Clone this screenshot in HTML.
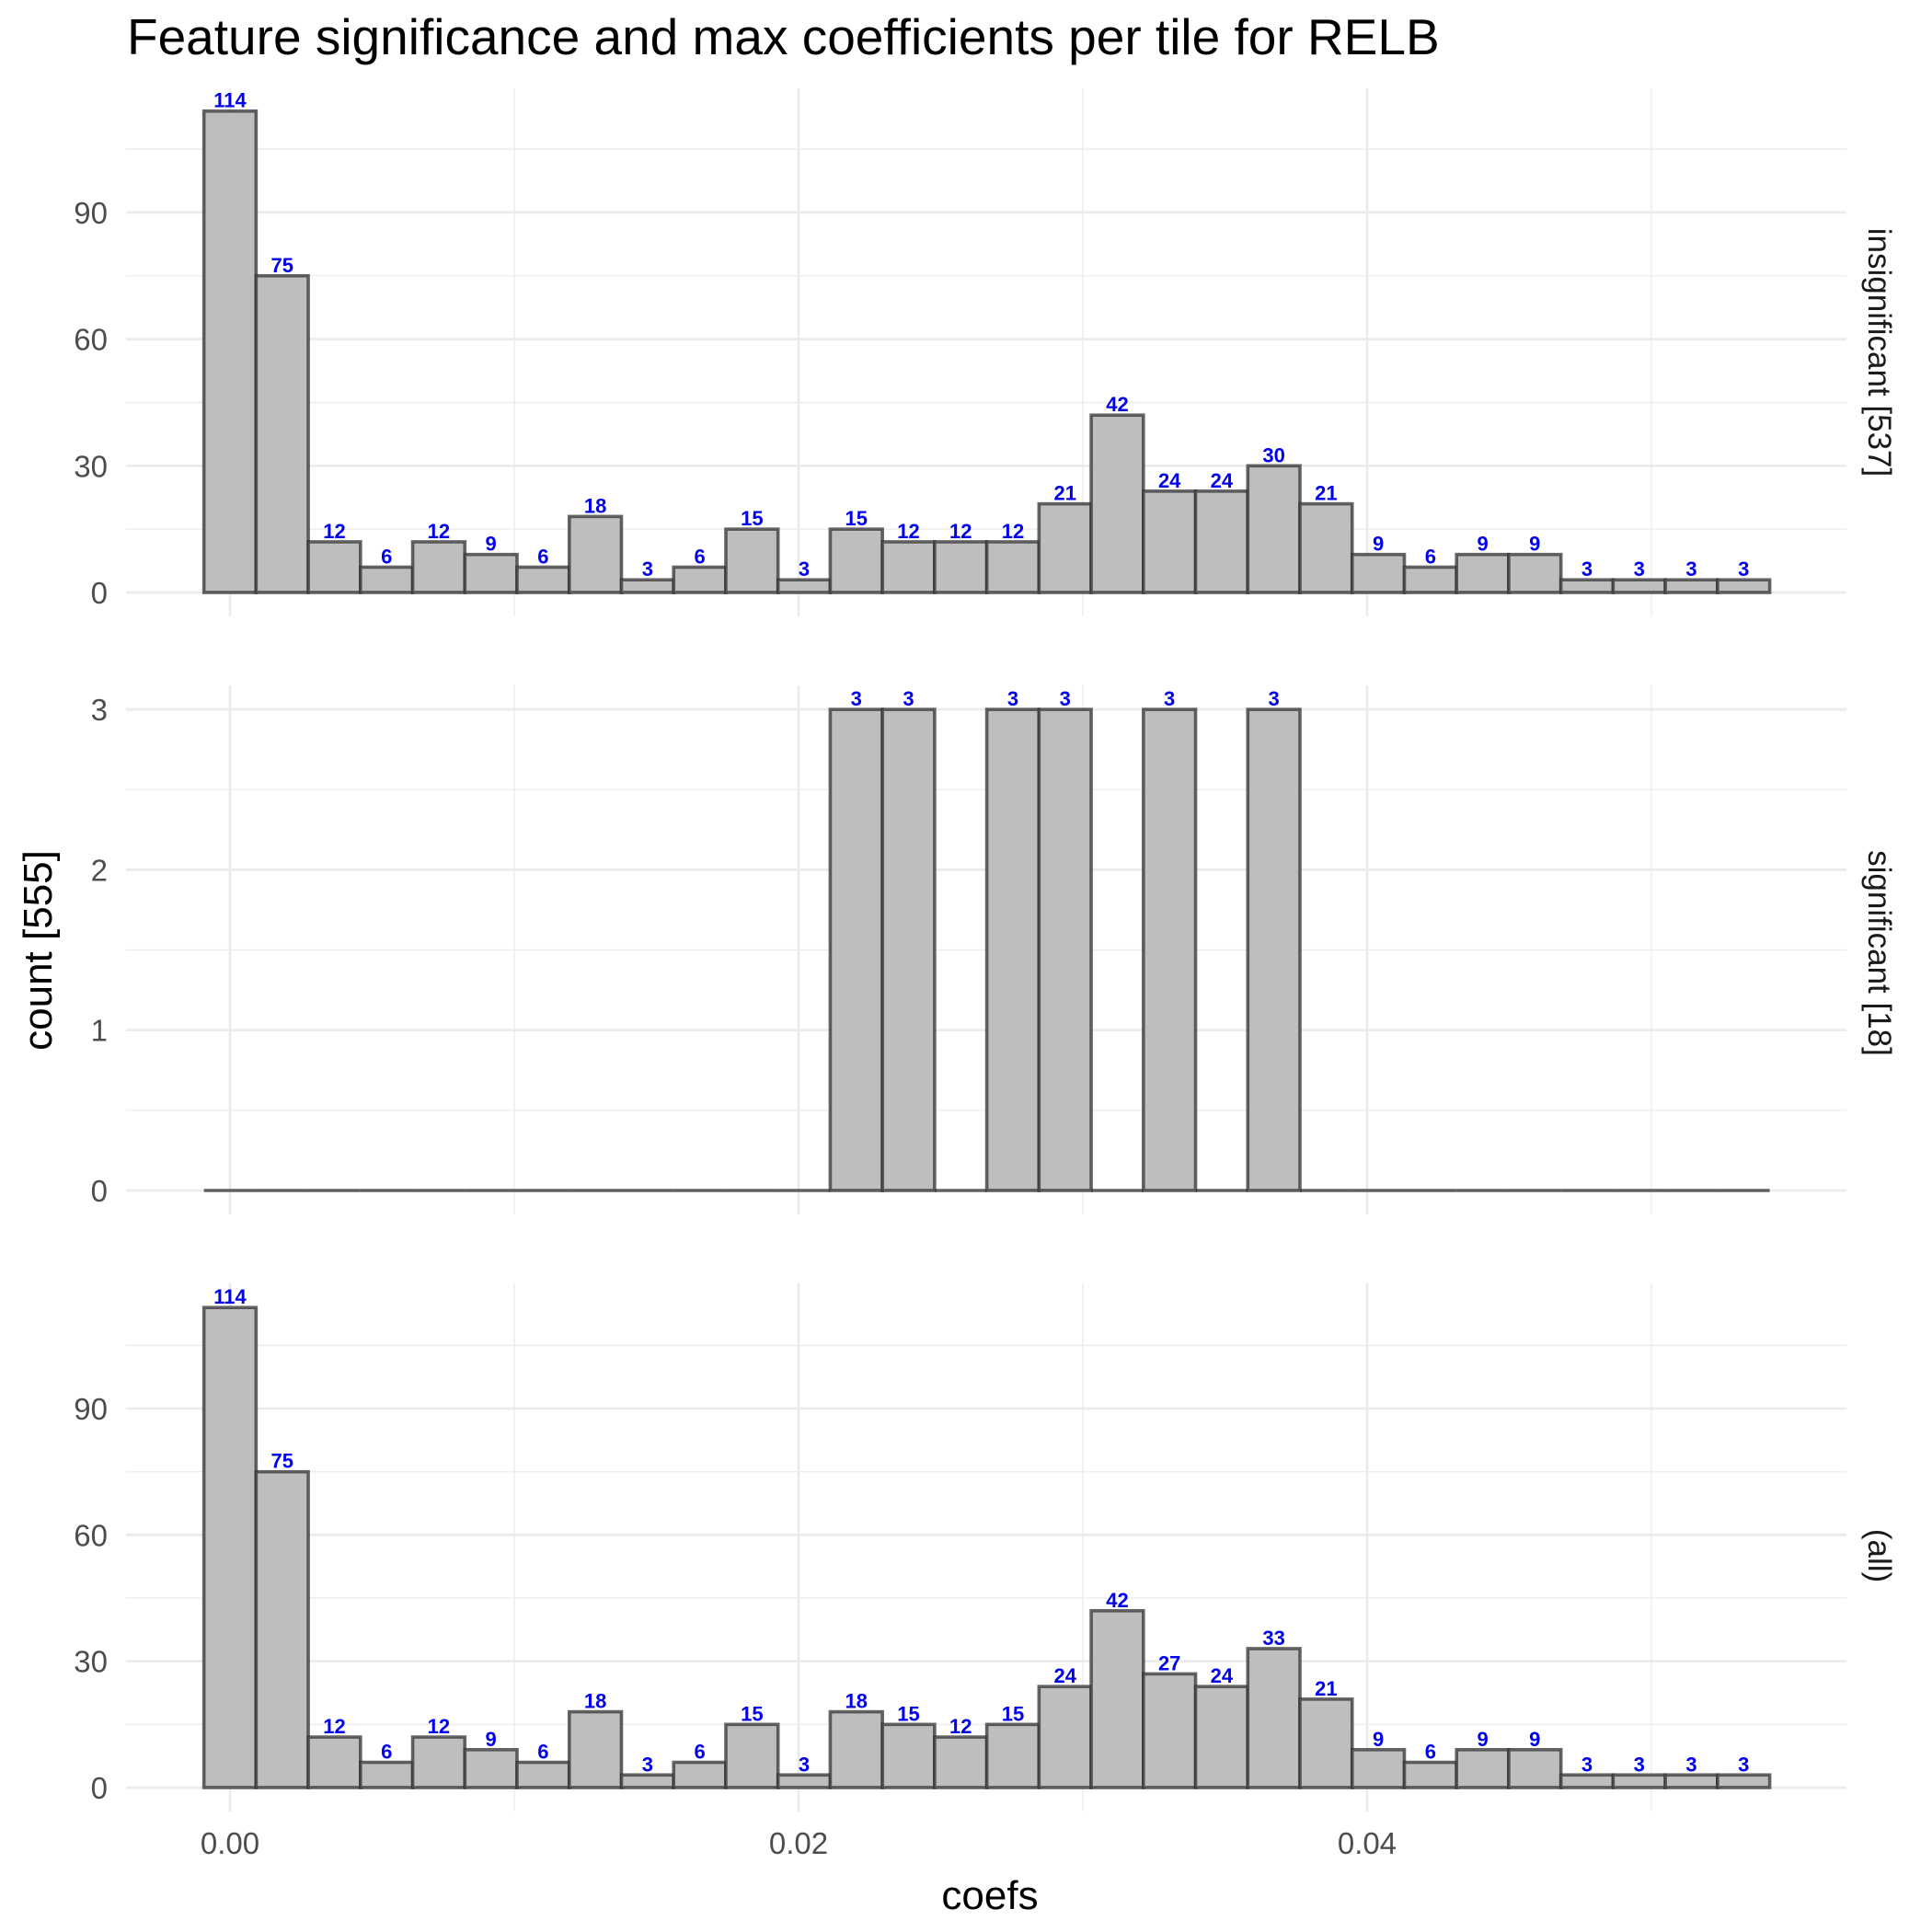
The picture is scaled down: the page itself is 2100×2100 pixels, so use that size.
<!DOCTYPE html>
<html><head><meta charset="utf-8"><style>
html,body{margin:0;padding:0;background:#fff;}
svg{display:block;font-family:"Liberation Sans",sans-serif;}
</style></head><body>
<svg id="chart" width="2100" height="2100" viewBox="0 0 2100 2100" xmlns="http://www.w3.org/2000/svg">
<text x="138" y="59" font-size="55" fill="#000">Feature significance and max coefficients per tile for RELB</text>
<text transform="translate(56,1033) rotate(-90)" text-anchor="middle" font-size="44" fill="#000">count [555]</text>
<text x="1076" y="2075" text-anchor="middle" font-size="44" fill="#000">coefs</text>
<g id="layers"></g>
</svg>
<script>
const binWidth = 0.001836;
const insignificantCounts = [114,75,12,6,12,9,6,18,3,6,15,3,15,12,12,12,21,42,24,24,30,21,9,6,9,9,3,3,3,3];
const significantCounts = [0,0,0,0,0,0,0,0,0,0,0,0,3,3,0,3,3,0,3,0,3,0,0,0,0,0,0,0,0,0];
const allCounts = [114,75,12,6,12,9,6,18,3,6,15,3,18,15,12,15,24,42,27,24,33,21,9,6,9,9,3,3,3,3];
const xTicks = [0, 0.02, 0.04];
const xTickLabels = ["0.00","0.02","0.04"];
const xMinor = [0.01, 0.03, 0.05];
const panelNames = ["insignificant [537]","significant [18]","(all)"];
const topTicks = [0,30,60,90];
const topMinor = [15,45,75,105];
const midTicks = [0,1,2,3];
const midMinor = [0.5,1.5,2.5];

const NS = "http://www.w3.org/2000/svg";
const root = document.getElementById('layers');
function X(c){ return 250 + c*30900; }
function mk(tag, attrs, parent){ const e=document.createElementNS(NS,tag); for(const k in attrs) e.setAttribute(k,attrs[k]); (parent||root).appendChild(e); return e; }

const panels = [
  {counts: insignificantCounts, zero:644, per:4.59, top:96, bottom:670, ticks:topTicks, minor:topMinor, label:panelNames[0], ly:383},
  {counts: significantCounts, zero:1294, per:174.3, top:745, bottom:1320, ticks:midTicks, minor:midMinor, label:panelNames[1], ly:1036},
  {counts: allCounts, zero:1943, per:4.577, top:1395, bottom:1969, ticks:topTicks, minor:topMinor, label:panelNames[2], ly:1691}
];

panels.forEach((p, pi) => {
  const g = mk('g', {});
  
  
  const Y = v => p.zero - v*p.per;
  p.minor.forEach(v => { const y=Y(v); if(y>p.top) { const l=mk('line',{x1:137,x2:2007,y1:y,y2:y,stroke:'#ebebeb','stroke-width':1.3},g);
      }});
  xMinor.forEach(c => { const l=mk('line',{x1:X(c),x2:X(c),y1:p.top,y2:p.bottom,stroke:'#ebebeb','stroke-width':1.3},g);
      });
  p.ticks.forEach(v => { const y=Y(v); const l=mk('line',{x1:137,x2:2007,y1:y,y2:y,stroke:'#ebebeb','stroke-width':2.7},g);
     
    const t=mk('text',{x:117,y:y+12,'text-anchor':'end','font-size':33,fill:'#4d4d4d'},g); t.textContent=String(v);
      });
  xTicks.forEach(c => { const l=mk('line',{x1:X(c),x2:X(c),y1:p.top,y2:p.bottom,stroke:'#ebebeb','stroke-width':2.7},g);
      });
  p.counts.forEach((v,i) => {
    const c = i*binWidth;
    const x0 = X(c - binWidth/2), x1 = X(c + binWidth/2);
    if (v > 0) {
      const r = mk('rect',{x:x0,y:Y(v),width:x1-x0,height:Y(0)-Y(v),fill:'#bebebe',stroke:'#333','stroke-opacity':0.75,'stroke-width':3.6},g);
      
      
      const t = mk('text',{x:(x0+x1)/2,y:Y(v)-4,'text-anchor':'middle','font-size':22,'font-weight':'bold',fill:'#0000ee'},g);
      t.textContent = String(v);
      
      
    } else {
      const l = mk('line',{x1:x0,x2:x1,y1:Y(0),y2:Y(0),stroke:'#333','stroke-opacity':0.75,'stroke-width':3.6},g);
      
      
    }
  });
  const s = mk('text',{transform:'translate(2031,'+p.ly+') rotate(90)','text-anchor':'middle','font-size':35,fill:'#1a1a1a'},g);
  s.textContent = p.label;
  
  
});

xTicks.forEach((c,i) => {
  const t = mk('text',{x:X(c),y:2015,'text-anchor':'middle','font-size':33,fill:'#4d4d4d'});
  t.textContent = xTickLabels[i];
  
  
});
</script>
</body></html>
